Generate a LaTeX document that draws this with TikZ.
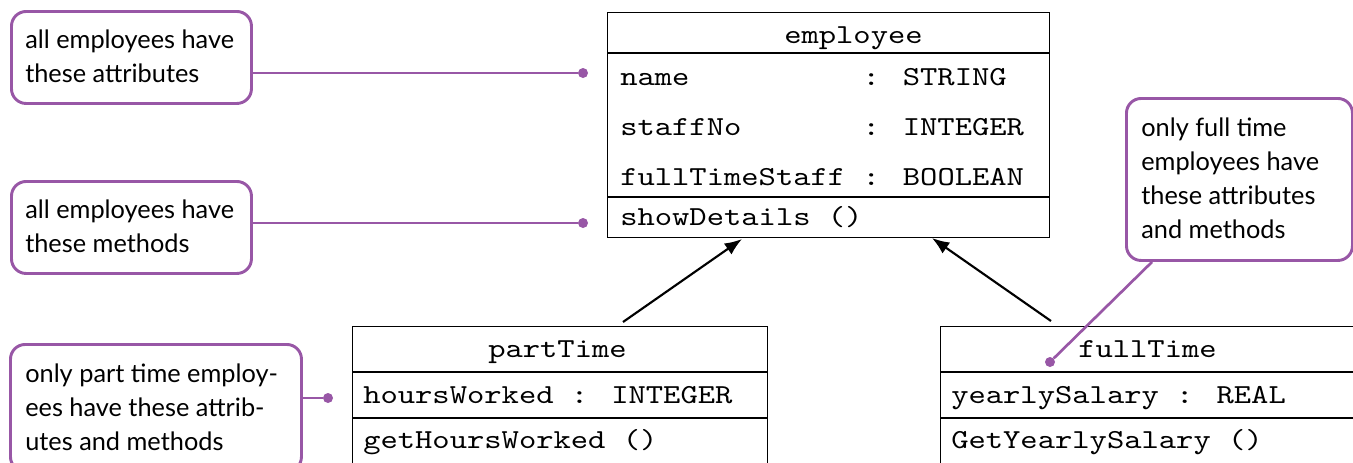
\documentclass[tikz,border=0pt]{standalone}
\usepackage{fontspec}
\newfontfamily\handfont{Lato}
\newfontfamily\umlfont{lmmono10-regular}[Extension=.otf,FakeStretch=1.2]
\usetikzlibrary{arrows.meta,calc}
\definecolor{callpurple}{RGB}{152,87,166}
\begin{document}
\begin{tikzpicture}[x=0.75pt,y=-0.75pt,
  callout/.style={draw=callpurple, line width=2.2pt, rounded corners=11pt, fill=white,
    anchor=north west, inner sep=0pt},
  calltext/.style={font=\handfont\fontsize{19}{25.5}\selectfont, align=left, anchor=west, inner sep=0pt},
  pin/.style={draw=callpurple, line width=2pt},
  pindot/.style={circle, fill=callpurple, inner sep=0pt, minimum size=7.5pt},
  umlbox/.style={draw=black, line width=1.1pt, anchor=north west, inner sep=0pt},
  divider/.style={draw=black, line width=1.1pt},
  umltext/.style={font=\umlfont\fontsize{20.6}{24}\selectfont, anchor=base west, inner sep=0pt},
  inherit/.style={draw=black, line width=1.6pt, -{Latex[length=13pt,width=10pt]}}
]
\useasboundingbox (0,0) rectangle (1353,462);
\clip (0,0) rectangle (1353,462);

% ---------- employee class ----------
\node[umlbox, minimum width=331.5pt, minimum height=168.75pt] (emp) at (607,12) {};
\draw[divider] (607,53) -- (1049,53);
\draw[divider] (607,197) -- (1049,197);
\node[umltext] (empT) at (784,43) {employee};
\node[umltext] (empA1) at (620,85) {name\ \ \ \ \ \ \ \ \ \ : STRING};
\node[umltext] (empA2) at (620,135) {staffNo\ \ \ \ \ \ \ : INTEGER};
\node[umltext] (empA3) at (620,185) {fullTimeStaff : BOOLEAN};
\node[umltext] (empM1) at (620,225) {showDetails ()};

% ---------- partTime class ----------
\node[umlbox, minimum width=311.25pt, minimum height=120pt] (pt) at (352,326) {};
\draw[divider] (352,372) -- (767,372);
\draw[divider] (352,418) -- (767,418);
\node[umltext] (ptT) at (488,357) {partTime};
\node[umltext] (ptA1) at (363,403) {hoursWorked : INTEGER};
\node[umltext] (ptM1) at (363,448) {getHoursWorked ()};

% ---------- fullTime class ----------
\node[umlbox, minimum width=315pt, minimum height=120pt] (ft) at (940,326) {};
\draw[divider] (940,372) -- (1360,372);
\draw[divider] (940,418) -- (1360,418);
\node[umltext] (ftT) at (1078,357) {fullTime};
\node[umltext] (ftA1) at (951,403) {yearlySalary : REAL};
\node[umltext] (ftM1) at (951,448) {GetYearlySalary ()};

% ---------- inheritance arrows ----------
\coordinate (ptTop) at (623,322);
\coordinate (empIn1) at (742,239);
\coordinate (ftTop) at (1051,321);
\coordinate (empIn2) at (932,238);
\draw[inherit] (ptTop) -- (empIn1);
\draw[inherit] (ftTop) -- (empIn2);

% ---------- callouts ----------
\node[callout, minimum width=180pt, minimum height=69pt] (c1) at (10,10) {};
\node[calltext] (c1t) at (25,56) {all employees have\\these attributes};
\node[pindot] (d1) at (583,73) {};
\draw[pin] (c1.east |- d1) -- (d1);

\node[callout, minimum width=180pt, minimum height=69pt] (c2) at (10,180) {};
\node[calltext] (c2t) at (25,226) {all employees have\\these methods};
\node[pindot] (d2) at (583,223) {};
\draw[pin] (c2.east |- d2) -- (d2);

\node[callout, minimum width=218.25pt, minimum height=95.25pt] (c3) at (9,343) {};
\node[calltext] (c3t) at (25,407) {only part time employ-\\ees have these attrib-\\utes and methods};
\node[pindot] (d3) at (328,398) {};
\draw[pin] (c3.east |- d3) -- (d3);

\node[callout, minimum width=169.5pt, minimum height=121.5pt] (c4) at (1125,97) {};
\node[calltext] (c4t) at (1141,178) {only full time\\employees have\\these attributes\\and methods};
\node[pindot] (d4) at (1050,362) {};
\draw[pin] ($(c4.south west)+(27,0)$) -- (d4);
\end{tikzpicture}
\end{document}
